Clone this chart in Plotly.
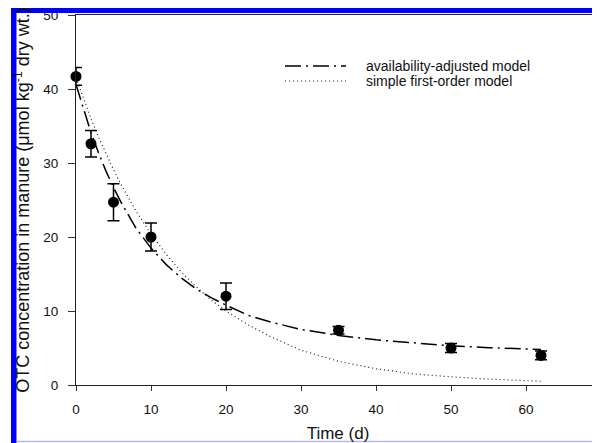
import plotly.graph_objects as go

# Observed data
time_obs = [0, 2, 5, 10, 20, 35, 50, 62]
conc_obs = [41.7, 32.6, 24.7, 20.0, 12.0, 7.4, 5.0, 4.0]
conc_err = [1.2, 1.8, 2.5, 1.9, 1.8, 0.5, 0.6, 0.6]

# Model curves
time_model = [0, 1, 2, 3, 4, 5, 6, 8, 10, 12, 14, 16, 18, 20, 23, 26, 30, 35, 40, 45, 50, 55, 62]
avail_model = [40.6, 37.2, 34.1, 31.4, 28.9, 26.7, 24.7, 21.2, 18.5, 16.3, 14.5, 13.0, 11.8,
               10.8, 9.4, 8.5, 7.5, 6.7, 6.1, 5.7, 5.3, 5.05, 4.8]
first_order_model = [41.5, 38.7, 36.0, 33.5, 31.2, 29.1, 27.1, 23.5, 20.4, 17.7, 15.3, 13.3, 11.5,
                     10.0, 8.1, 6.5, 4.7, 3.2, 2.2, 1.5, 1.1, 0.8, 0.5]

x_ticks = [0, 10, 20, 30, 40, 50, 60]
y_ticks = [0, 10, 20, 30, 40, 50]

legend_names = ["availability-adjusted model", "simple first-order model"]

FONT = "Liberation Sans, Arial, sans-serif"
DASHDOT = "16px,5px,2px,5px"
DOT = "1px,3px"

fig = go.Figure()
fig.add_trace(go.Scatter(x=time_model, y=avail_model, mode="lines",
                         line=dict(color="black", width=1.5, dash=DASHDOT),
                         name=legend_names[0], showlegend=False))
fig.add_trace(go.Scatter(x=time_model, y=first_order_model, mode="lines",
                         line=dict(color="#222", width=1.2, dash=DOT),
                         name=legend_names[1], showlegend=False))
fig.add_trace(go.Scatter(x=time_obs, y=conc_obs, mode="markers",
                         marker=dict(color="black", size=11),
                         error_y=dict(type="data", array=conc_err, visible=True,
                                      color="black", thickness=1.5, width=6),
                         cliponaxis=False, showlegend=False, name="observed"))

# plot area in window pixels: x 76..600, y 15..385 (page body has an 8px offset)
def px(xp):
    return (xp - 76) / 524.0

def py(yp):
    return (385 - yp) / 370.0

ROW1, ROW2 = 66, 81

shapes = []
# manual legend samples
shapes.append(dict(type="line", xref="paper", yref="paper", x0=px(285), x1=px(346), y0=py(ROW1), y1=py(ROW1),
                   line=dict(color="black", width=1.5, dash=DASHDOT)))
shapes.append(dict(type="line", xref="paper", yref="paper", x0=px(285), x1=px(346), y0=py(ROW2), y1=py(ROW2),
                   line=dict(color="#222", width=1.2, dash=DOT)))
# blue frame
shapes.append(dict(type="rect", xref="paper", yref="paper", x0=px(11), x1=px(605), y0=py(13), y1=py(8),
                   fillcolor="#0000ff", line=dict(width=0), layer="above"))
shapes.append(dict(type="rect", xref="paper", yref="paper", x0=px(11), x1=px(16.5), y0=py(450), y1=py(8),
                   fillcolor="#0000ff", line=dict(width=0), layer="above"))
shapes.append(dict(type="line", xref="paper", yref="paper", x0=px(16.5), x1=px(605), y0=py(441.5), y1=py(441.5),
                   line=dict(color="#b4b8ff", width=1.5), layer="above"))

annotations = [
    dict(text=legend_names[0], xref="paper", yref="paper", x=px(364), y=py(ROW1), xanchor="left",
         yanchor="middle", showarrow=False, font=dict(family=FONT, size=14, color="#111")),
    dict(text=legend_names[1], xref="paper", yref="paper", x=px(364), y=py(ROW2), xanchor="left",
         yanchor="middle", showarrow=False, font=dict(family=FONT, size=14, color="#111")),
    dict(text="70", xref="paper", yref="paper", x=px(601), y=py(408), xanchor="center",
         yanchor="middle", showarrow=False, font=dict(family=FONT, size=13.5, color="#111")),
]

fig.update_layout(
    width=592, height=435,
    margin=dict(l=68, r=0, t=7, b=58),
    paper_bgcolor="white", plot_bgcolor="white",
    font=dict(family=FONT, size=13.5, color="#111"),
    shapes=shapes, annotations=annotations,
    xaxis=dict(range=[0, 524 / 7.5], tickvals=x_ticks, ticks="outside", ticklen=5, tickwidth=1,
               tickcolor="#333", showline=True, linecolor="#222", linewidth=1.3, mirror=True,
               showgrid=False, zeroline=False, ticklabelstandoff=7,
               title=dict(text="Time (d)", font=dict(size=17), standoff=10)),
    yaxis=dict(range=[0, 50], tickvals=y_ticks, ticks="outside", ticklen=7, tickwidth=1,
               tickcolor="#333", showline=True, linecolor="#222", linewidth=1.2,
               showgrid=False, zeroline=False, ticklabelstandoff=7, ticklabeloverflow="allow",
               title=dict(text="OTC concentration in manure (μmol kg<sup>-1</sup> dry wt.)",
                          font=dict(size=18), standoff=8)),
)

fig.write_html("out.html")
